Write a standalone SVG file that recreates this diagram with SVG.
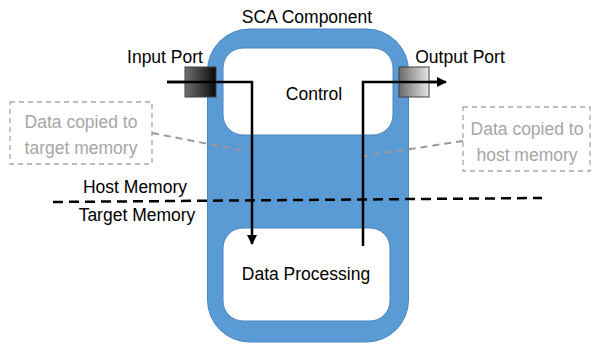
<svg xmlns="http://www.w3.org/2000/svg" width="602" height="345" viewBox="0 0 602 345">
  <defs>
    <linearGradient id="gInPort" x1="0" y1="0" x2="1" y2="0">
      <stop offset="0" stop-color="#707070"/>
      <stop offset="1" stop-color="#0a0a0a"/>
    </linearGradient>
    <linearGradient id="gOutPort" x1="0" y1="0" x2="1" y2="0">
      <stop offset="0" stop-color="#6a6a6a"/>
      <stop offset="1" stop-color="#e6e6e6"/>
    </linearGradient>
    <marker id="arrow" viewBox="0 0 10 10" refX="9" refY="5" markerWidth="10" markerHeight="10" markerUnits="userSpaceOnUse" orient="auto">
      <path d="M0,0 L10,5 L0,10 z" fill="#000"/>
    </marker>
  </defs>
  <style>
    text { font-family: "Liberation Sans", Arial, sans-serif; fill: #000; }
    .lbl { font-size: 17.5px; }
    .note { font-size: 17.5px; fill: #a6a6a6; }
    .inner { fill: #fff; stroke: #4a86c0; stroke-width: 1; }
    .port { stroke: #404040; stroke-width: 1; }
    .flow { fill: none; stroke: #000; stroke-width: 2.5; }
    .callout { fill: none; stroke: #9a9a9a; stroke-width: 2; stroke-dasharray: 7 5; }
    .notebox { fill: #fff; stroke: #a6a6a6; stroke-width: 1.3; stroke-dasharray: 5 4; }
  </style>
  <rect width="602" height="345" fill="#fff"/>

  <!-- component body -->
  <g id="sca-component">
    <rect x="207.5" y="29" width="201" height="313" rx="42" fill="#5b9bd5" stroke="#4a86c0" stroke-width="1"/>
    <text class="lbl" x="307" y="23" text-anchor="middle">SCA Component</text>
  </g>

  <g id="control">
    <rect class="inner" x="223" y="48" width="170" height="87" rx="20"/>
    <text class="lbl" x="314" y="100" text-anchor="middle">Control</text>
  </g>

  <g id="data-processing">
    <rect class="inner" x="223" y="228" width="167" height="93" rx="20"/>
    <text class="lbl" x="306" y="280" text-anchor="middle">Data Processing</text>
  </g>

  <!-- memory boundary -->
  <g id="memory-boundary">
    <line x1="53" y1="202" x2="542" y2="198" stroke="#000" stroke-width="2.5" stroke-dasharray="10 6"/>
    <text class="lbl" x="135" y="193" text-anchor="middle">Host Memory</text>
    <text class="lbl" x="137" y="221" text-anchor="middle">Target Memory</text>
  </g>

  <!-- data flow -->
  <g id="connectors">
    <polyline class="flow" points="167,82 252,82 252,244" marker-end="url(#arrow)"/>
    <polyline class="flow" points="363,246 363,82 446,82" marker-end="url(#arrow)"/>
    <line class="callout" x1="152" y1="133" x2="245" y2="151"/>
    <line class="callout" x1="463" y1="141" x2="364" y2="156"/>
  </g>

  <g id="input-port">
    <rect class="port" x="185" y="67" width="31" height="30" fill="url(#gInPort)"/>
    <line x1="167" y1="82" x2="216" y2="82" stroke="#000" stroke-width="2.5"/>
    <text class="lbl" x="165" y="63" text-anchor="middle">Input Port</text>
  </g>

  <g id="output-port">
    <rect class="port" x="399" y="67" width="30" height="30" fill="url(#gOutPort)"/>
    <line x1="399" y1="82" x2="440" y2="82" stroke="#000" stroke-width="2.5"/>
    <text class="lbl" x="460" y="63" text-anchor="middle">Output Port</text>
  </g>

  <g id="note-target">
    <rect class="notebox" x="10" y="102" width="142" height="62"/>
    <text class="note" x="81" y="128" text-anchor="middle">Data copied to</text>
    <text class="note" x="81" y="154" text-anchor="middle">target memory</text>
  </g>

  <g id="note-host">
    <rect class="notebox" x="463" y="107" width="127" height="64"/>
    <text class="note" x="527" y="135" text-anchor="middle">Data copied to</text>
    <text class="note" x="527" y="161" text-anchor="middle">host memory</text>
  </g>
</svg>
